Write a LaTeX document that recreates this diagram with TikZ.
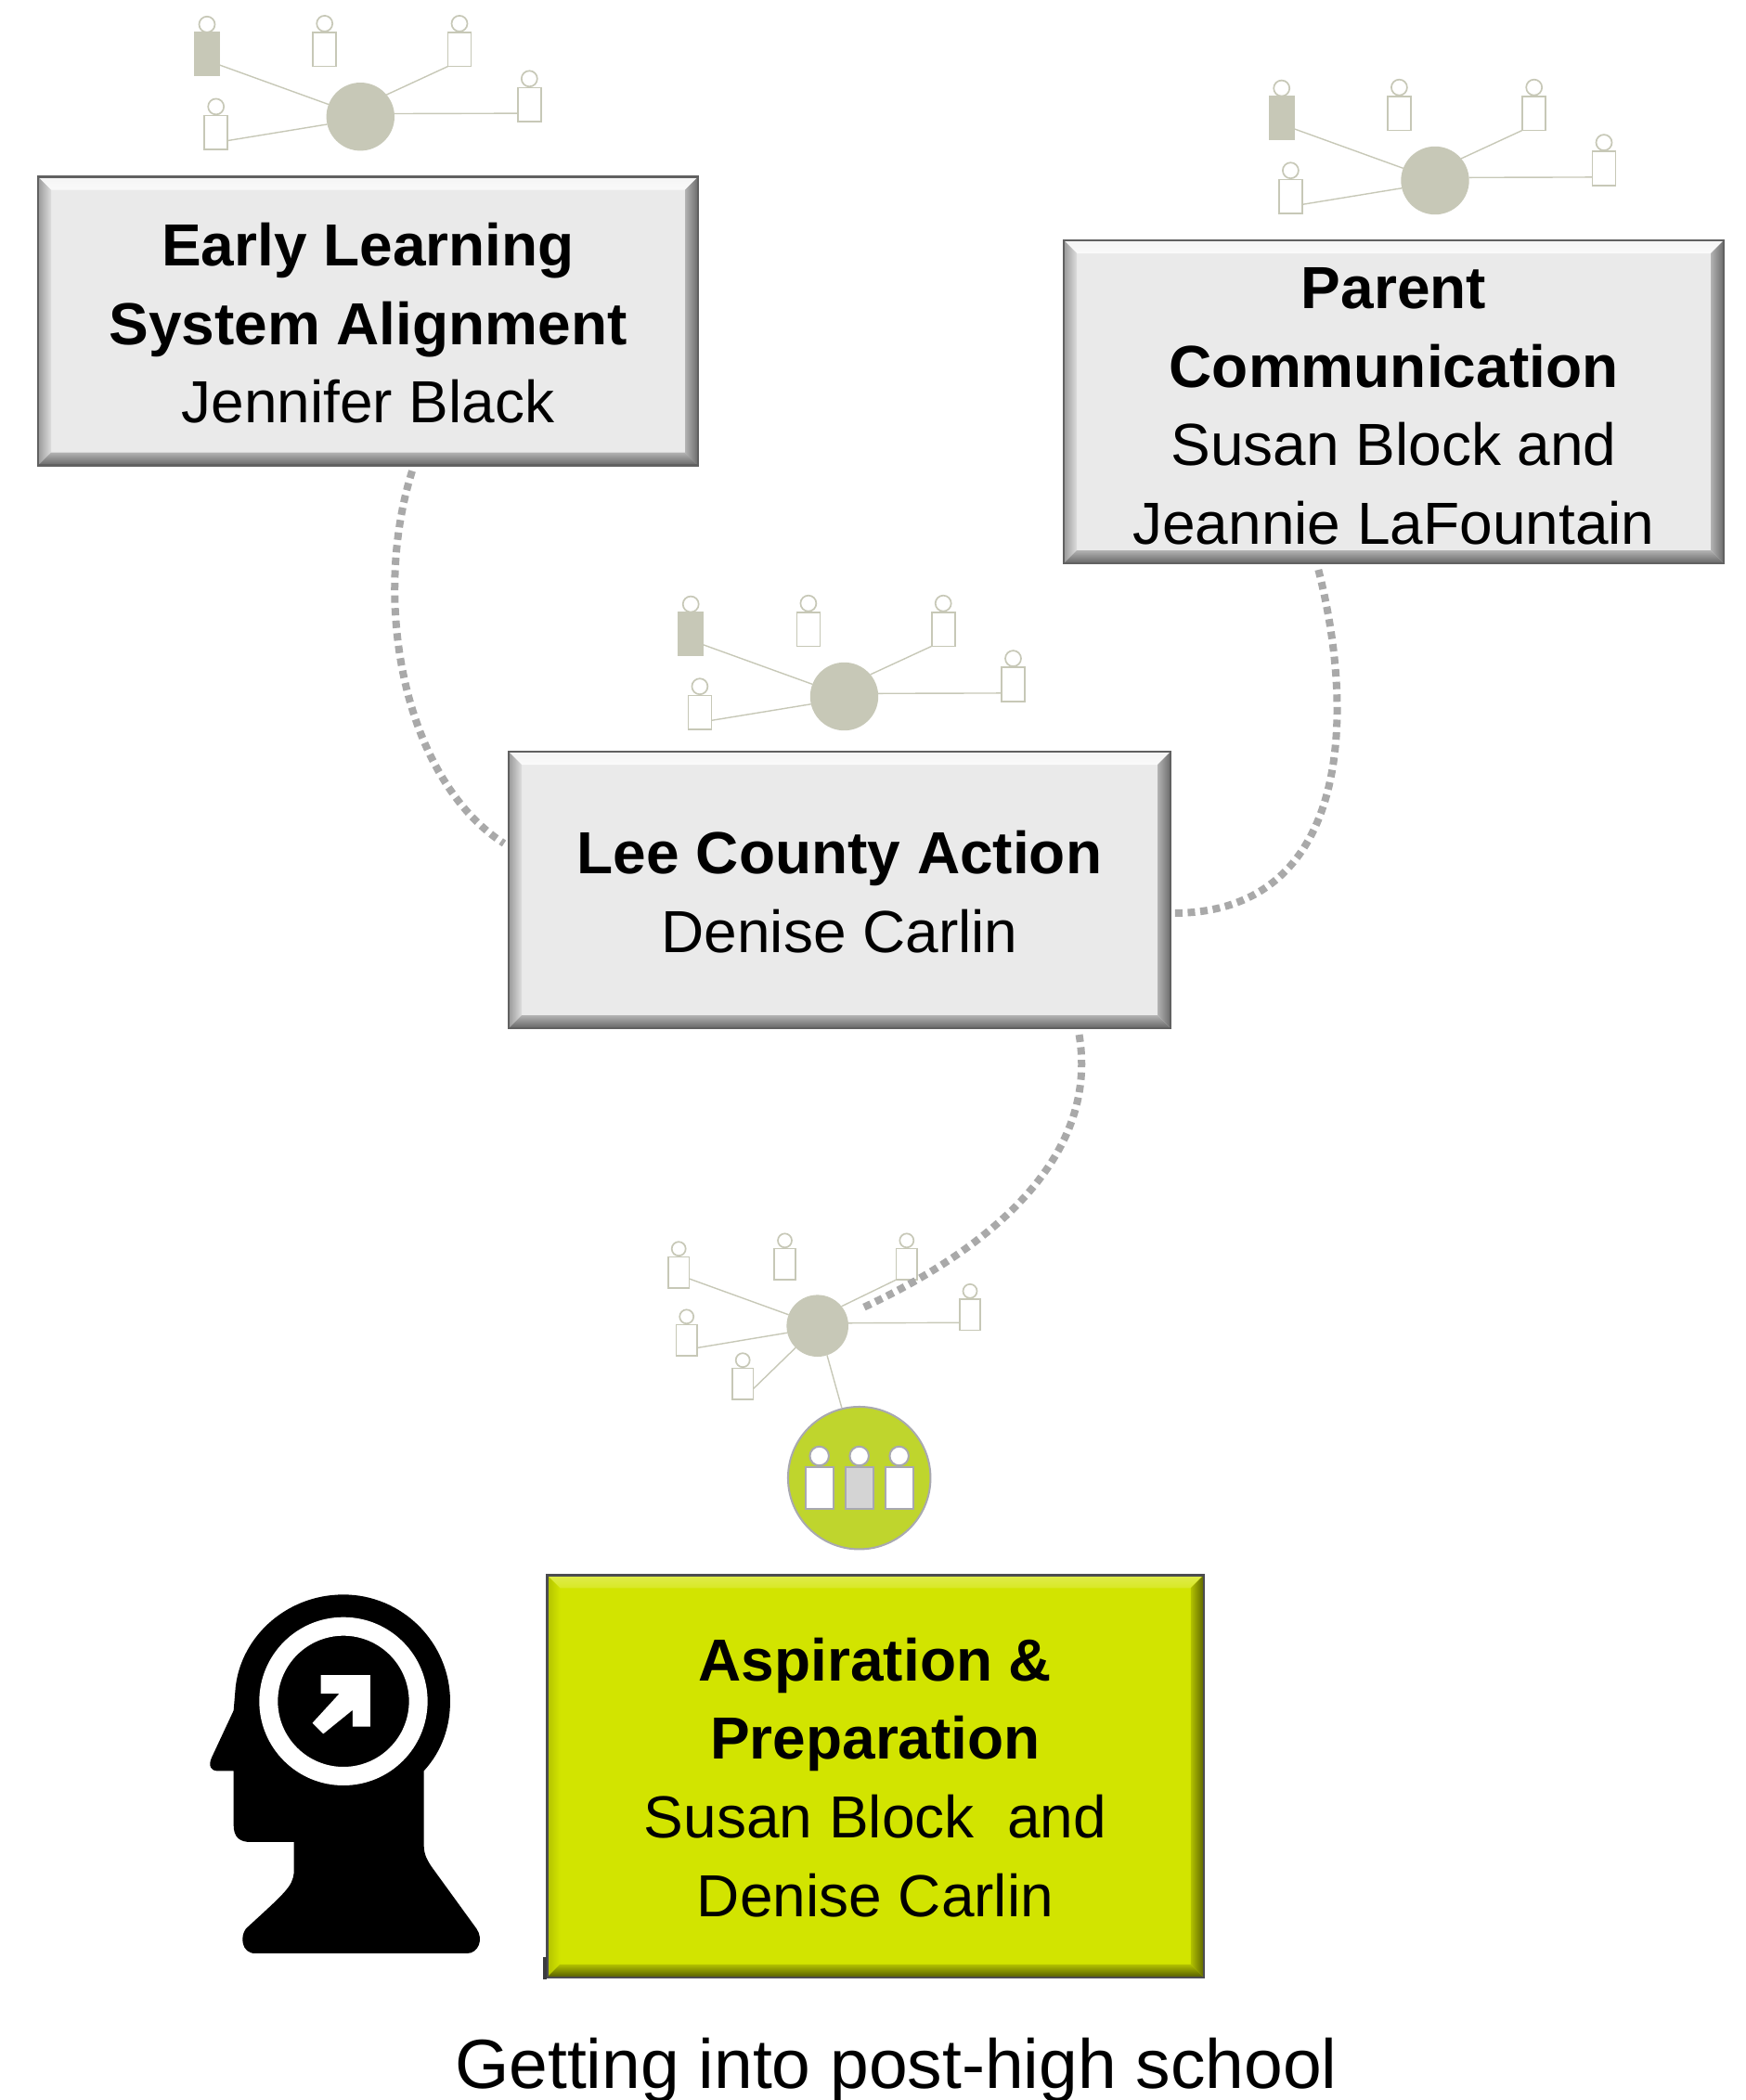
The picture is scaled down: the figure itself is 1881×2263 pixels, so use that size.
\documentclass[tikz,border=0pt]{standalone}
\usepackage{fontspec}
\setmainfont{Liberation Sans}
\usetikzlibrary{calc}

\definecolor{netcol}{HTML}{C7C8B7}
\definecolor{linkcol}{HTML}{A9A9A9}
\definecolor{boxface}{HTML}{EAEAEA}
\definecolor{limeface}{HTML}{D2E400}
\definecolor{badgecol}{HTML}{BFD52D}
\definecolor{badgeline}{HTML}{A8A8B0}

\tikzset{
  % top, left, right, bottom: outer and inner colour of each slope
  bevel/.style n args={8}{
    path picture={
      \coordinate (nw) at (path picture bounding box.north west);
      \coordinate (ne) at (path picture bounding box.north east);
      \coordinate (sw) at (path picture bounding box.south west);
      \coordinate (se) at (path picture bounding box.south east);
      \shade[top color=#1,bottom color=#2] (nw)--(ne)--($(ne)+(-14,14)$)--($(nw)+(14,14)$)--cycle;
      \shade[left color=#3,right color=#4] (nw)--(sw)--($(sw)+(14,-14)$)--($(nw)+(14,14)$)--cycle;
      \shade[left color=#6,right color=#5] (ne)--(se)--($(se)+(-14,-14)$)--($(ne)+(-14,14)$)--cycle;
      \shade[top color=#8,bottom color=#7] (sw)--(se)--($(se)+(-14,-14)$)--($(sw)+(14,-14)$)--cycle;
    }
  },
  textbox/.style={rectangle,inner sep=0pt,outer sep=0pt,line width=2.5pt,align=center,
    font=\fontsize{64}{84.6}\selectfont},
  greybox/.style={textbox,draw=black!62,fill=boxface,
    bevel={white!96!black}{white!98!black}{black!40}{white!87!black}{black!58}{black!30}{black!60}{black!30}},
  limebox/.style={textbox,draw=black!55!badgeline,fill=limeface,
    bevel={limeface!70!white}{limeface!85!white}{limeface!85!black}{limeface}{limeface!45!black}{limeface!85!black}{limeface!40!black}{limeface!85!black}},
  hubdot/.style={circle,fill=netcol,inner sep=0pt,outer sep=0pt},
  persbody/.style={rectangle,draw=netcol,fill=white,line width=1.7pt,inner sep=0pt,outer sep=0pt},
  pershead/.style={circle,draw=netcol,fill=white,line width=1.7pt,inner sep=0pt,outer sep=0pt},
  netline/.style={draw=netcol,line width=1.4pt},
  dotlink/.style={draw=linkcol,line width=8pt,dash pattern=on 8pt off 5.6pt},
  badgebody/.style={rectangle,draw=badgeline,line width=2pt,inner sep=0pt,outer sep=0pt,
    minimum width=30pt,minimum height=45.5pt},
  badgehead/.style={circle,draw=badgeline,fill=white,line width=2pt,inner sep=0pt,outer sep=0pt,
    minimum size=20.5pt},
  netfive/.pic={
    \node[hubdot,minimum size=73.4pt] (hub) at (0,0) {};
    \node[persbody,fill=netcol,minimum width=26.5pt,minimum height=46.5pt] (a) at (-165.3,-67.7) {};
    \node[pershead,minimum size=17pt] (ah) at (-165.3,-99.4) {};
    \foreach \n/\x/\y in {b/-38.6/-72.4,c/106.7/-72.4,d/182/-13,e/-155.6/17.1}{
      \node[persbody,minimum width=25pt,minimum height=36.5pt] (\n) at (\x,\y) {};
      \node[pershead,minimum size=17pt] (\n h) at (\x,\y-27.9) {};
    }
    \draw[netline] (a.-42)--(hub.159);
    \draw[netline] (e.-35)--(hub.193);
    \draw[netline] (c.south west)--(hub.40);
    \draw[netline] (d.217)--(hub.5);
  }
}

\begin{document}
\begin{tikzpicture}[x=1pt,y=-1pt]
  \useasboundingbox (0,0) rectangle (1881,2263);

  \pic (early-) at (388.3,125.7) {netfive};
  \pic (parent-) at (1546,194.5) {netfive};
  \pic (lee-) at (909.5,750.5) {netfive};

  \node[greybox,minimum width=711pt,minimum height=311pt] (earlybox) at (396.5,346)
    {\rule{0pt}{51pt}\textbf{Early Learning}\\\textbf{System Alignment}\\Jennifer Black};
  \node[greybox,minimum width=711pt,minimum height=348pt] (parentbox) at (1501.5,433)
    {\rule{0pt}{54pt}\textbf{Parent}\\\textbf{Communication}\\Susan Block and\\Jeannie LaFountain};
  \node[greybox,minimum width=713pt,minimum height=298pt] (leebox) at (904.5,959)
    {\rule{0pt}{51pt}\textbf{Lee County Action}\\Denise Carlin};

  % bottom network
  \node[hubdot,minimum size=66.6pt] (aspirehub) at (880.7,1428.7) {};
  \foreach \n/\x/\y in {a/-149.5/-57.5,b/-35.2/-66.4,c/96.1/-66.4,d/164.3/-11.9,e/-141/15.6,f/-80.5/62.5}{
    \node[persbody,minimum width=22.5pt,minimum height=33.5pt] (asp\n) at ($(aspirehub)+(\x,\y)$) {};
    \node[pershead,minimum size=15pt] (asp\n h) at ($(aspirehub)+(\x,\y-25.5)$) {};
  }
  \node[circle,draw=badgeline,fill=badgecol,line width=2pt,inner sep=0pt,minimum size=153.5pt] (badge) at (925.7,1592.7) {};
  \node[badgebody,fill=white] (badgea) at (882.7,1603.5) {};
  \node[badgehead] (badgeah) at (882.7,1569) {};
  \node[badgebody,fill=black!17] (badgeb) at (925.7,1603.5) {};
  \node[badgehead] (badgebh) at (925.7,1569) {};
  \node[badgebody,fill=white] (badgec) at (968.7,1603.5) {};
  \node[badgehead] (badgech) at (968.7,1569) {};

  \draw[netline] (aspa.-31)--(aspirehub.159);
  \draw[netline] (aspe.-36)--(aspirehub.193);
  \draw[netline] (aspf.-26)--(aspirehub.225);
  \draw[netline] (aspc.south west)--(aspirehub.39);
  \draw[netline] (aspd.217)--(aspirehub.5);
  \draw[netline] (aspirehub.-72)--(badge.104);

  \node[limebox,minimum width=707.5pt,minimum height=433.5pt] (aspirebox) at (943,1914)
    {\rule{0pt}{49pt}\textbf{Aspiration \&}\\\textbf{Preparation}\\Susan Block\ \ and\\Denise Carlin};
  \fill[black!65!badgeline] (585,2109) rectangle (588.5,2133);

  % dotted links
  \coordinate (aspireend) at (930,1409);
  \draw[dotlink] ([yshift=-6pt]earlybox.-73) .. controls (399,650) and (436,840) .. ([xshift=-5pt]leebox.172);
  \draw[dotlink] ([yshift=-7pt]parentbox.-115) .. controls (1465,790) and (1445,985) .. ([xshift=2pt]leebox.-4.3);
  \draw[dotlink] ([yshift=-7pt]leebox.-30.5) .. controls (1182,1230) and (1095,1332) .. (aspireend);

  % head silhouette
  \begin{scope}[shift={(200,1690)},x=0.3333pt,y=-0.3333pt]
    \fill[black] (510,85) .. controls (320,85) and (170,230) .. (160,400)
      -- (155,460) -- (85,610) .. controls (70,640) and (85,655) .. (100,655) -- (155,655)
      -- (155,830) .. controls (155,870) and (175,885) .. (210,885) -- (350,885) -- (350,985)
      .. controls (345,1030) and (320,1050) .. (195,1165) .. controls (175,1190) and (180,1245) .. (225,1245)
      -- (910,1245) .. controls (945,1245) and (965,1200) .. (940,1165) -- (795,965)
      .. controls (775,935) and (770,920) .. (770,890) -- (770,655)
      .. controls (830,590) and (855,510) .. (855,430) .. controls (855,240) and (700,85) .. (510,85) -- cycle;
    \fill[white,even odd rule] (510,430) circle[radius=272] (510,430) circle[radius=212];
    \fill[white] (437,345) -- (597,345) -- (597,512) -- (540,512) -- (540,458) -- (445,535)
      -- (410,500) -- (497,405) -- (437,405) -- cycle;
  \end{scope}

  \node[anchor=base,inner sep=0pt,font=\fontsize{75}{86}\selectfont] (caption) at (965.5,2250) {Getting into post-high school};
\end{tikzpicture}
\end{document}
